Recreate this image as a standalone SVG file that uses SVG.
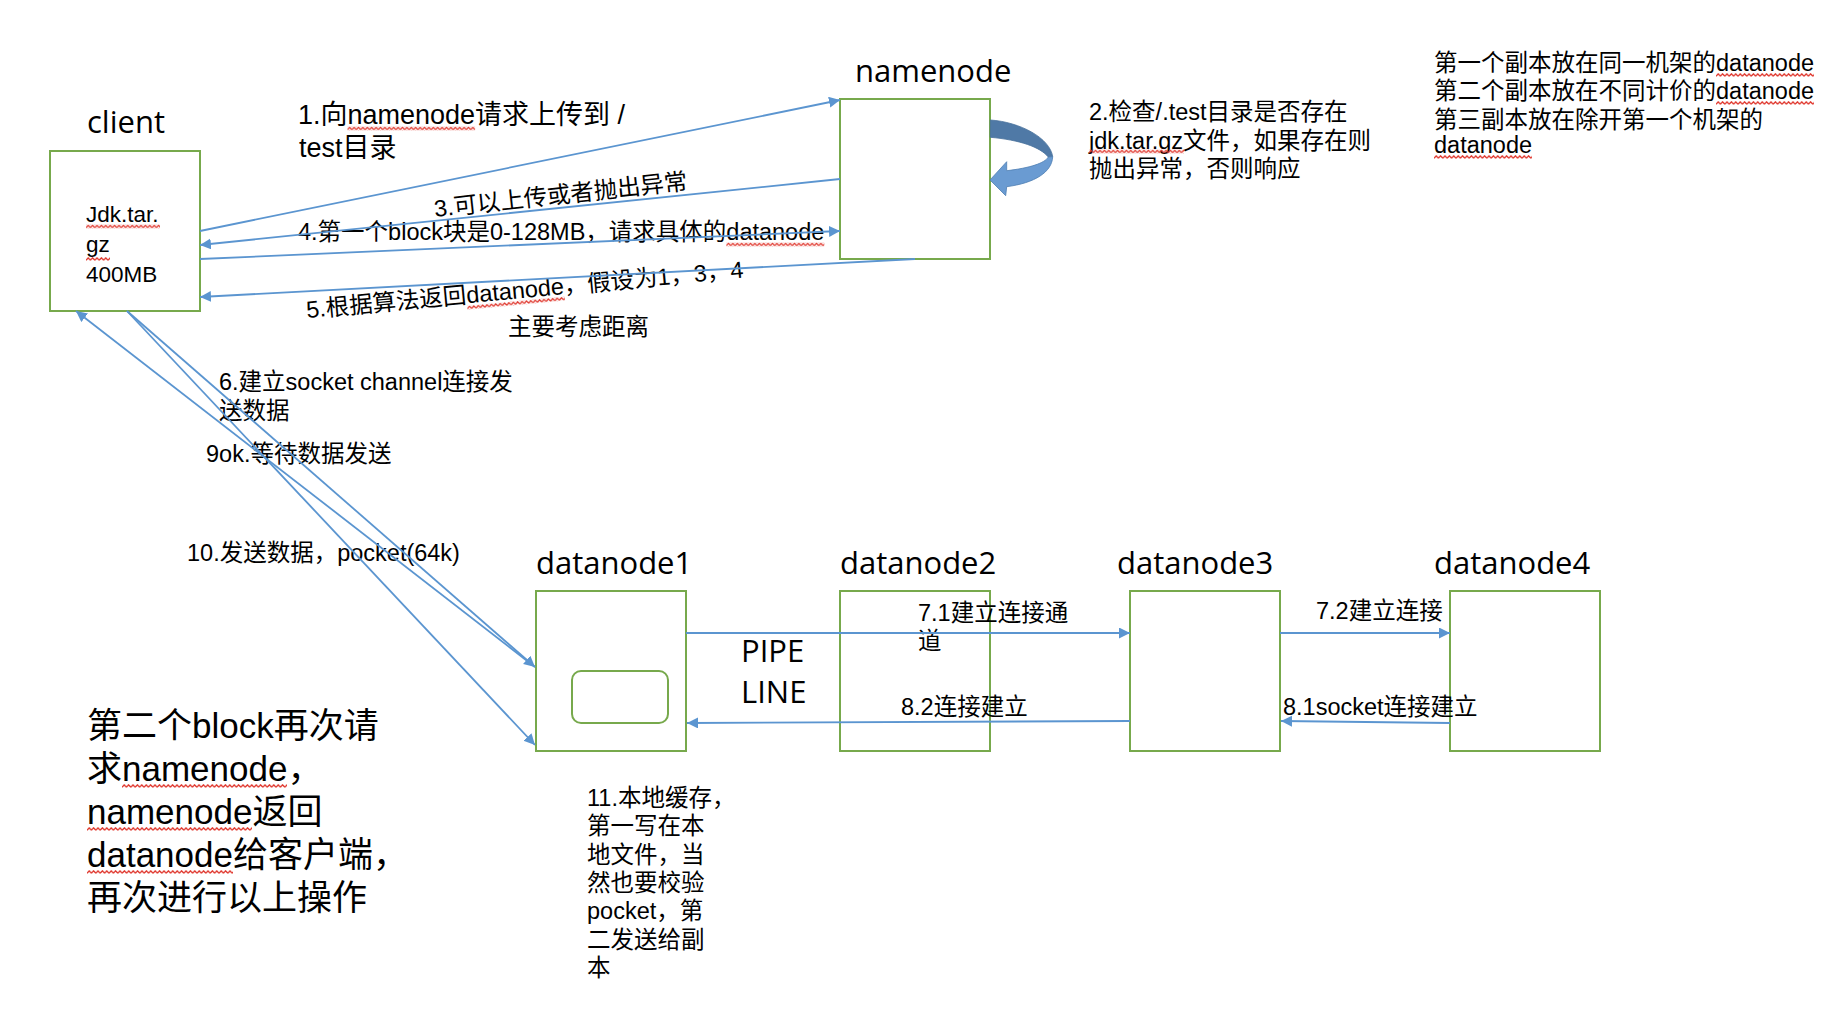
<svg xmlns="http://www.w3.org/2000/svg" width="1828" height="1016" viewBox="0 0 1828 1016">
<defs>
<style>
.box{fill:#fff;stroke:#77A94C;stroke-width:2}
.ttl{font-family:"Open Sans","Liberation Sans",sans-serif;font-size:31px;fill:#000}
.t{font-family:"Liberation Sans","Noto Sans CJK SC",sans-serif;fill:#000}
.s{font-size:23.5px}
.l{font-size:27px}
.b{font-size:35px}
.c{font-size:22.5px}
.cn{fill:none;stroke:#5B95D0;stroke-width:1.8}
.ar{marker-end:url(#ah)}
.sq{fill:url(#sq)}
</style>
<marker id="ah" markerUnits="userSpaceOnUse" markerWidth="12" markerHeight="12" refX="11" refY="5.5" orient="auto"><path d="M0,0 L11,5.5 L0,11 Z" fill="#5B95D0"/></marker>
<pattern id="sq" patternUnits="userSpaceOnUse" width="4.4" height="4"><path d="M0,3.2 L2.2,0.8 L4.4,3.2" fill="none" stroke="#E0392F" stroke-width="1.3"/></pattern>
</defs>
<rect width="1828" height="1016" fill="#fff"/>

<g id="client">
<rect class="box" x="50" y="151" width="150" height="160"/>
<text class="ttl" x="87" y="133">client</text>
<text class="t c" x="86" y="222">Jdk.tar.</text>
<text class="t c" x="86" y="252">gz</text>
<text class="t c" x="86" y="282">400MB</text>
<rect class="sq" transform="translate(86,224.5)" width="74" height="4"/>
<rect class="sq" transform="translate(86,257)" width="24" height="4"/>
</g>

<g id="namenode">
<rect class="box" x="840" y="99" width="150" height="160"/>
<text class="ttl" x="855" y="82">namenode</text>
</g>

<g id="datanode1">
<rect class="box" x="536" y="591" width="150" height="160"/>
<rect class="box" x="572" y="671" width="96" height="52" rx="9"/>
<text class="ttl" x="536" y="574">datanode1</text>
</g>
<g id="datanode2">
<rect class="box" x="840" y="591" width="150" height="160"/>
<text class="ttl" x="840" y="574">datanode2</text>
</g>
<g id="datanode3">
<rect class="box" x="1130" y="591" width="150" height="160"/>
<text class="ttl" x="1117" y="574">datanode3</text>
</g>
<g id="datanode4">
<rect class="box" x="1450" y="591" width="150" height="160"/>
<text class="ttl" x="1434" y="574">datanode4</text>
</g>

<g id="labels">
<text class="t l" x="298" y="124">1.向namenode请求上传到 /</text>
<text class="t l" x="299" y="157">test目录</text>
<rect class="sq" transform="translate(347.5,126.5)" width="127.6" height="4"/>

<text class="t s" transform="translate(435,217) rotate(-6.3)">3.可以上传或者抛出异常</text>

<text class="t s" x="298" y="240">4.第一个block块是0-128MB，请求具体的datanode</text>
<rect class="sq" transform="translate(726.3,242.5)" width="98" height="4"/>

<g transform="translate(307,318) rotate(-5.3)">
<text class="t s" x="0" y="0">5.根据算法返回datanode，假设为1，3，4</text>
<rect class="sq" transform="translate(160.6,2.5)" width="98" height="4"/>
</g>
<text class="t s" x="508" y="335">主要考虑距离</text>

<text class="t s" x="1089" y="120">2.检查/.test目录是否存在</text>
<text class="t s" x="1089" y="148.5">jdk.tar.gz文件，如果存在则</text>
<text class="t s" x="1089" y="177">抛出异常，否则响应</text>
<rect class="sq" transform="translate(1089,149.5)" width="95" height="4"/>

<text class="t s" x="1434" y="71">第一个副本放在同一机架的datanode</text>
<text class="t s" x="1434" y="99">第二个副本放在不同计价的datanode</text>
<text class="t s" x="1434" y="128">第三副本放在除开第一个机架的</text>
<text class="t s" x="1434" y="153">datanode</text>
<rect class="sq" transform="translate(1716,73)" width="98" height="4"/>
<rect class="sq" transform="translate(1716,101)" width="98" height="4"/>
<rect class="sq" transform="translate(1434,155)" width="98" height="4"/>

<text class="t s" x="219" y="390">6.建立socket channel连接发</text>
<text class="t s" x="219" y="418.5">送数据</text>
<text class="t s" x="206" y="462">9ok.等待数据发送</text>
<text class="t s" x="187" y="561">10.发送数据，pocket(64k)</text>

<text class="ttl" x="741" y="662">PIPE</text>
<text class="ttl" x="741" y="703">LINE</text>

<text class="t s" x="918" y="621">7.1建立连接通</text>
<text class="t s" x="918" y="649">道</text>
<text class="t s" x="901" y="715">8.2连接建立</text>
<text class="t s" x="1316" y="619">7.2建立连接</text>
<text class="t s" x="1283" y="715">8.1socket连接建立</text>

<text class="t s" x="587" y="806">11.本地缓存，</text>
<text class="t s" x="587" y="834.3">第一写在本</text>
<text class="t s" x="587" y="862.7">地文件，当</text>
<text class="t s" x="587" y="891">然也要校验</text>
<text class="t s" x="587" y="919.3">pocket，第</text>
<text class="t s" x="587" y="947.7">二发送给副</text>
<text class="t s" x="587" y="976">本</text>

<text class="t b" x="87" y="738">第二个block再次请</text>
<text class="t b" x="87" y="781">求namenode，</text>
<text class="t b" x="87" y="824">namenode返回</text>
<text class="t b" x="87" y="867">datanode给客户端，</text>
<text class="t b" x="87" y="910">再次进行以上操作</text>
<rect class="sq" transform="translate(122,784)" width="165" height="4"/>
<rect class="sq" transform="translate(87,827)" width="165" height="4"/>
<rect class="sq" transform="translate(87,870)" width="146" height="4"/>
</g>

<g id="connectors">
<line class="cn ar" x1="200" y1="231" x2="840" y2="100"/>
<line class="cn ar" x1="840" y1="179" x2="200" y2="245"/>
<line class="cn ar" x1="200" y1="259" x2="840" y2="231"/>
<line class="cn ar" x1="915" y1="259" x2="200" y2="297"/>
<line class="cn ar" x1="127" y1="311" x2="535" y2="667"/>
<line class="cn ar" x1="535" y1="667" x2="76" y2="311"/>
<line class="cn ar" x1="127" y1="311" x2="535" y2="745"/>
<line class="cn ar" x1="686" y1="633" x2="1130" y2="633"/>
<line class="cn ar" x1="1280" y1="633" x2="1450" y2="633"/>
<line class="cn ar" x1="1450" y1="723" x2="1281" y2="721"/>
<line class="cn ar" x1="1130" y1="721" x2="687" y2="723"/>
<g id="self-check">
<path d="M990.3,120 C1020,122 1050,138 1052.7,156.7 L1048.3,157 C1040,147 1020,140 990.3,137.3 Z" fill="#4F79A6" stroke="#46709B" stroke-width="0.8"/>
<path d="M1052.7,156.7 C1052,172 1035,183 1006.7,186.7 L1005.7,195.7 L990,180 L1006.7,161.7 L1006.7,170.7 C1030,168 1045,163 1048.3,157 Z" fill="#6A9BD2" stroke="#4F7FB3" stroke-width="0.8"/>
</g>
</g>
</svg>
